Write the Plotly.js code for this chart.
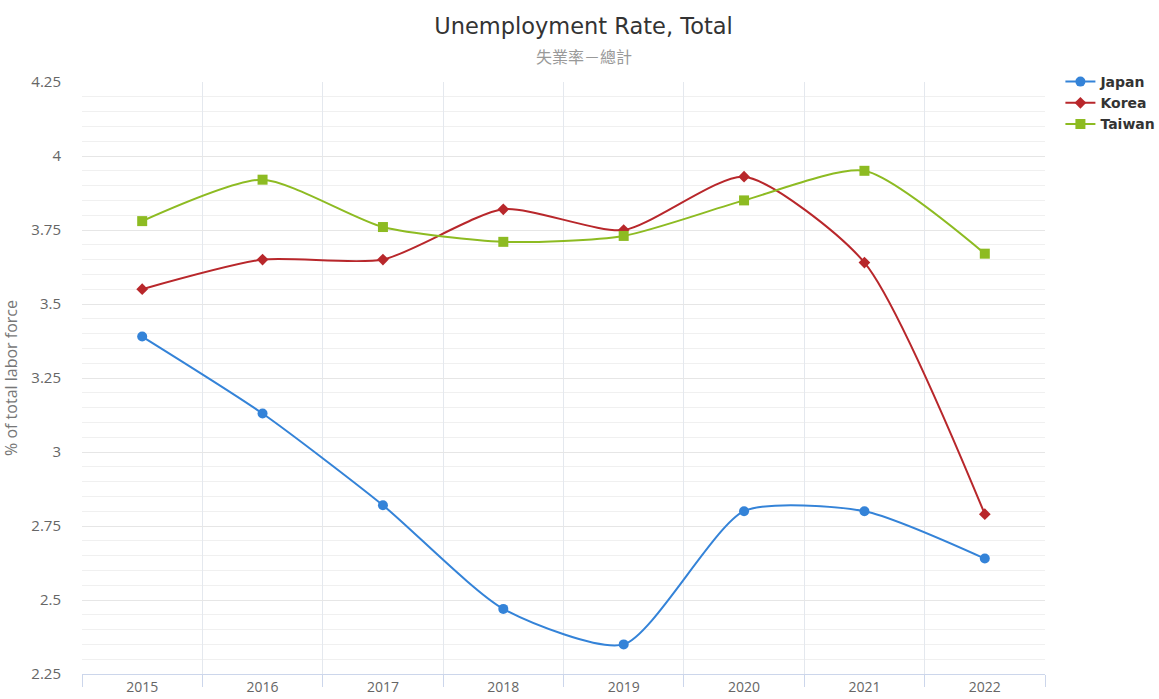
<!DOCTYPE html>
<html>
<head>
<meta charset="utf-8">
<script src="https://cdn.plot.ly/plotly-3.0.1.min.js"></script>
<style>html,body{margin:0;padding:0;background:#fff;}#chart{width:1159px;height:699px;}</style>
</head>
<body>
<div id="chart"></div>
<script>
const years = ["2015","2016","2017","2018","2019","2020","2021","2022"];
const japan = [3.39, 3.13, 2.82, 2.47, 2.35, 2.80, 2.80, 2.64];
const korea = [3.55, 3.65, 3.65, 3.82, 3.75, 3.93, 3.64, 2.79];
const taiwan = [3.78, 3.92, 3.76, 3.71, 3.73, 3.85, 3.95, 3.67];
const seriesNames = ["Japan", "Korea", "Taiwan"];
const yTicks = [2.25, 2.5, 2.75, 3, 3.25, 3.5, 3.75, 4, 4.25];

function mk(name, y, color, symbol, size) {
  return {
    type: "scatter", mode: "lines+markers", name: name, x: years, y: y,
    line: {color: color, width: 2, shape: "spline", smoothing: 0.65},
    marker: {color: color, symbol: symbol, size: size}
  };
}
const data = [
  mk(seriesNames[0], japan, "#3483d8", "circle", 10),
  mk(seriesNames[1], korea, "#b8272b", "diamond", 9),
  mk(seriesNames[2], taiwan, "#8dbb22", "square", 10)
];
const layout = {
  width: 1159, height: 699,
  paper_bgcolor: "#fff", plot_bgcolor: "#fff",
  margin: {l: 82, r: 114, t: 82, b: 25, autoexpand: false},
  font: {family: "Open Sans, sans-serif", color: "#666"},
  title: {text: "Unemployment Rate, Total", x: 583.5/1159, xref: "container", xanchor: "center", y: 0.963, yref: "container", yanchor: "middle",
          font: {family: "DejaVu Sans, sans-serif", size: 22.5, color: "#333"}},
  annotations: [{text: "失業率－總計", xref: "paper", yref: "paper", x: (583.5 - 82)/963, y: 1 + (82 - 56)/592,
                 showarrow: false, xanchor: "center", yanchor: "middle",
                 font: {family: "Noto Sans CJK TC, sans-serif", size: 16, color: "#999"}}],
  xaxis: {type: "category", tickson: "boundaries", range: [-0.5, 7.5],
          showgrid: true, gridcolor: "#e4e8ee", gridwidth: 1,
          ticks: "outside", ticklen: 12, tickcolor: "#ccd6eb", tickwidth: 1,
          showline: true, linecolor: "#ccd6eb", linewidth: 1, ticklabelstandoff: 0,
          tickfont: {size: 14, color: "#666"}, zeroline: false, fixedrange: true},
  yaxis: {range: [2.25, 4.25], tickvals: yTicks, ticktext: yTicks.map(v => String(v)),
          showgrid: true, gridcolor: "#e6e6e6", gridwidth: 1, zeroline: false,
          ticks: "", ticklabelstandoff: 20,
          minor: {dtick: 0.05, tick0: 2.25, showgrid: true, gridcolor: "#f0f0f0", gridwidth: 1},
          tickfont: {size: 15, color: "#666"},
          title: {text: "% of total labor force", standoff: 10, font: {size: 16, color: "#777"}}},
  legend: {x: 1.016, xanchor: "left", y: 1.027, yanchor: "top", itemwidth: 30, tracegroupgap: 0,
           font: {family: "DejaVu Sans, sans-serif", size: 14, color: "#333", weight: "bold"},
           bgcolor: "rgba(0,0,0,0)"},
  showlegend: true
};
Plotly.newPlot("chart", data, layout, {displayModeBar: false, staticPlot: true});
</script>
</body>
</html>
